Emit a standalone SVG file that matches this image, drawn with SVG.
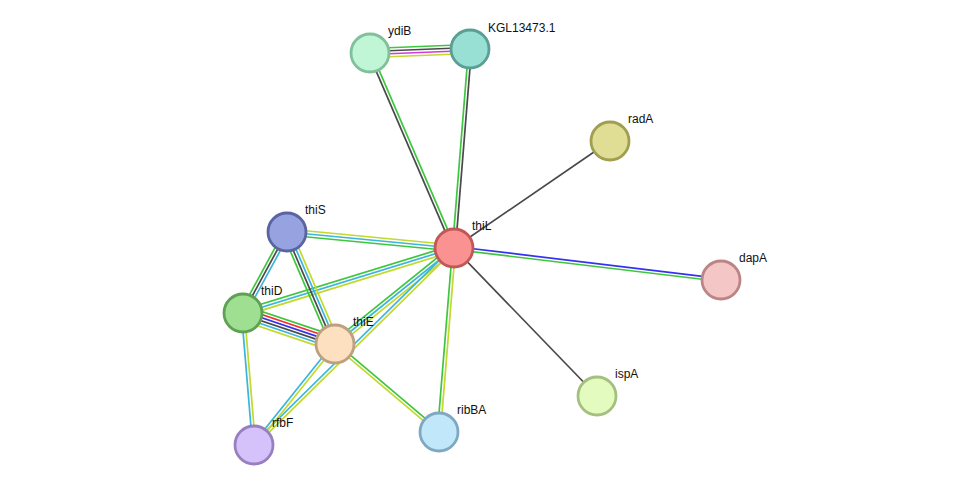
<svg xmlns="http://www.w3.org/2000/svg" width="976" height="490" viewBox="0 0 976 490">
<style>
line{stroke-width:1.7;fill:none}
.g{stroke:#3ec63e}.k{stroke:#4a4a4a}.m{stroke:#d63ad6}.y{stroke:#c2d92e}.c{stroke:#3ab6dc}.r{stroke:#f03030}.b{stroke:#3232f0}
circle{stroke-width:2.8}
text{font-family:"Liberation Sans",Arial,sans-serif;font-size:12px;fill:#111}
</style>
<rect width="976" height="490" fill="#fff"/>
<g id="edges">
<g transform="translate(370,53) rotate(-2.29)"><line class="g" x2="100.1" y1="-4.5" y2="-4.5"/><line class="k" x2="100.1" y1="-1.5" y2="-1.5"/><line class="m" x2="100.1" y1="1.5" y2="1.5"/><line class="y" x2="100.1" y1="4.5" y2="4.5"/></g>
<g transform="translate(370,53) rotate(66.7)"><line class="g" x2="212.3" y1="-1.5" y2="-1.5"/><line class="k" x2="212.3" y1="1.5" y2="1.5"/></g>
<g transform="translate(470,49) rotate(94.6)"><line class="g" x2="199.6" y1="1.5" y2="1.5"/><line class="k" x2="199.6" y1="-1.5" y2="-1.5"/></g>
<line class="k" x1="454" y1="248" x2="610" y2="141"/>
<g transform="translate(454,248) rotate(6.84)"><line class="b" x2="268.9" y1="-1.5" y2="-1.5"/><line class="g" x2="268.9" y1="1.5" y2="1.5"/></g>
<line class="k" x1="454" y1="248" x2="597" y2="396"/>
<g transform="translate(454,248) rotate(94.66)"><line class="g" x2="184.6" y1="1.5" y2="1.5"/><line class="y" x2="184.6" y1="-1.5" y2="-1.5"/></g>
<g transform="translate(287,232) rotate(5.47)"><line class="y" x2="167.8" y1="-3" y2="-3"/><line class="c" x2="167.8"/><line class="g" x2="167.8" y1="3" y2="3"/></g>
<g transform="translate(243,313) rotate(-17.12)"><line class="g" x2="220.8" y1="-3" y2="-3"/><line class="c" x2="220.8"/><line class="y" x2="220.8" y1="3" y2="3"/></g>
<g transform="translate(335,344) rotate(-38.89)"><line class="g" x2="152.9" y1="-3" y2="-3"/><line class="c" x2="152.9"/><line class="y" x2="152.9" y1="3" y2="3"/></g>
<g transform="translate(254,445) rotate(-44.57)"><line class="c" x2="280.7" y1="-1.5" y2="-1.5"/><line class="y" x2="280.7" y1="1.5" y2="1.5"/></g>
<g transform="translate(287,232) rotate(118.5)"><line class="g" x2="92.2" y1="3" y2="3"/><line class="k" x2="92.2"/><line class="c" x2="92.2" y1="-3" y2="-3"/></g>
<g transform="translate(287,232) rotate(66.8)"><line class="g" x2="121.9" y1="4.5" y2="4.5"/><line class="k" x2="121.9" y1="1.5" y2="1.5"/><line class="c" x2="121.9" y1="-1.5" y2="-1.5"/><line class="y" x2="121.9" y1="-4.5" y2="-4.5"/></g>
<g transform="translate(243,313) rotate(18.62)"><line class="g" x2="97.1" y1="-7.5" y2="-7.5"/><line class="r" x2="97.1" y1="-4.5" y2="-4.5"/><line class="b" x2="97.1" y1="-1.5" y2="-1.5"/><line class="k" x2="97.1" y1="1.5" y2="1.5"/><line class="c" x2="97.1" y1="4.5" y2="4.5"/><line class="y" x2="97.1" y1="7.5" y2="7.5"/></g>
<g transform="translate(335,344) rotate(128.73)"><line class="c" x2="129.5" y1="1.5" y2="1.5"/><line class="y" x2="129.5" y1="-1.5" y2="-1.5"/></g>
<g transform="translate(243,313) rotate(85.24)"><line class="c" x2="132.5" y1="1.5" y2="1.5"/><line class="y" x2="132.5" y1="-1.5" y2="-1.5"/></g>
<g transform="translate(335,344) rotate(40.24)"><line class="g" x2="136.2" y1="-1.5" y2="-1.5"/><line class="y" x2="136.2" y1="1.5" y2="1.5"/></g>
</g>
<g id="ydiB"><circle cx="370" cy="53" r="19" fill="#c0f5d6" stroke="#80c09a"/><text x="388" y="35">ydiB</text></g>
<g id="KGL13473.1"><circle cx="470" cy="49" r="19" fill="#98dfd4" stroke="#5a9e94"/><text x="488" y="32">KGL13473.1</text></g>
<g id="radA"><circle cx="610" cy="141" r="19" fill="#e0de94" stroke="#a09e50"/><text x="628" y="123">radA</text></g>
<g id="thiL"><circle cx="454" cy="248" r="19" fill="#fa9292" stroke="#c05858"/><text x="472" y="230">thiL</text></g>
<g id="dapA"><circle cx="721" cy="280" r="19" fill="#f5c6c6" stroke="#bb8585"/><text x="739" y="262">dapA</text></g>
<g id="ispA"><circle cx="597" cy="396" r="19" fill="#e4fbc0" stroke="#a4c080"/><text x="615" y="378">ispA</text></g>
<g id="thiS"><circle cx="287" cy="232" r="19" fill="#97a3e0" stroke="#5a64a0"/><text x="305" y="214">thiS</text></g>
<g id="thiD"><circle cx="243" cy="313" r="19" fill="#9fdf92" stroke="#5fa055"/><text x="261" y="295">thiD</text></g>
<g id="thiE"><circle cx="335" cy="344" r="19" fill="#fde0c0" stroke="#bea080"/><text x="353" y="326">thiE</text></g>
<g id="rfbF"><circle cx="254" cy="445" r="19" fill="#d5c2fa" stroke="#9880c0"/><text x="272" y="427">rfbF</text></g>
<g id="ribBA"><circle cx="439" cy="432" r="19" fill="#c0e8fa" stroke="#80a8c0"/><text x="457" y="414">ribBA</text></g>
</svg>
